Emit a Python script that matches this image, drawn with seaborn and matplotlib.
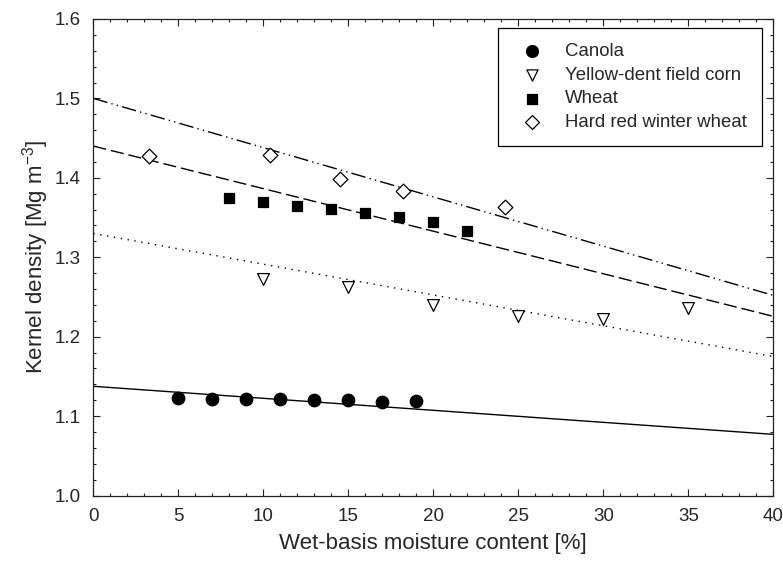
import numpy as np
import pandas as pd
import matplotlib
matplotlib.use("Agg")
import matplotlib.pyplot as plt
from matplotlib.ticker import MultipleLocator
import seaborn as sns

# ---- data ----
canola_x = [5, 7, 9, 11, 13, 15, 17, 19]
canola_y = [1.123, 1.122, 1.121, 1.121, 1.120, 1.120, 1.118, 1.119]

corn_x = [10, 15, 20, 25, 30, 35]
corn_y = [1.273, 1.262, 1.240, 1.226, 1.222, 1.236]

wheat_x = [8, 10, 12, 14, 16, 18, 20, 22]
wheat_y = [1.374, 1.369, 1.365, 1.361, 1.356, 1.351, 1.344, 1.333]

hrw_x = [3.3, 10.4, 14.5, 18.2, 24.2]
hrw_y = [1.428, 1.429, 1.399, 1.383, 1.363]

# fitted model lines (values at the ends of the moisture range)
fit_x = [0, 40]
canola_fit = [1.1375, 1.077]
corn_fit = [1.330, 1.175]
wheat_fit = [1.440, 1.2256]
hrw_fit = [1.500, 1.252]

labels = ["Canola", "Yellow-dent field corn", "Wheat", "Hard red winter wheat"]
x_ticks = [0, 5, 10, 15, 20, 25, 30, 35, 40]
y_ticks = [1.0, 1.1, 1.2, 1.3, 1.4, 1.5, 1.6]

sns.set_style("ticks")
plt.rcParams["font.family"] = ["Liberation Sans", "DejaVu Sans"]
plt.rcParams["mathtext.default"] = "regular"

fig = plt.figure(figsize=(7.83, 5.70), dpi=100)
ax = fig.add_axes([0.1192, 0.1307, 0.8684, 0.836])

# fitted lines
fit_styles = [
    (canola_fit, "-"),
    (corn_fit, (0, (1, 4))),
    (wheat_fit, (0, (9.5, 3.5))),
    (hrw_fit, (0, (10.5, 3, 1, 3, 1, 3))),
]
for vals, ls in fit_styles:
    d = pd.DataFrame({"x": fit_x, "y": vals})
    sns.lineplot(data=d, x="x", y="y", ax=ax, color="black", lw=1.0,
                 linestyle=ls, legend=False)

# data points
series = [
    (canola_x, canola_y, "o", "black", 9.0),
    (corn_x, corn_y, "v", "white", 8.5),
    (wheat_x, wheat_y, "s", "black", 7.8),
    (hrw_x, hrw_y, "D", "white", 7.5),
]
for (xs, ys, mk, fc, ms), lab in zip(series, labels):
    d = pd.DataFrame({"x": xs, "y": ys})
    sns.scatterplot(data=d, x="x", y="y", ax=ax, marker=mk, s=ms ** 2,
                    facecolor=fc, edgecolor="black", linewidth=0.9,
                    label=lab, zorder=3)

ax.set_xlim(0, 40)
ax.set_ylim(1.0, 1.6)
ax.set_xticks(x_ticks)
ax.set_yticks(y_ticks)
ax.set_xticklabels([str(v) for v in x_ticks])
ax.set_yticklabels([f"{v:.1f}" for v in y_ticks])
ax.xaxis.set_minor_locator(MultipleLocator(1))
ax.yaxis.set_minor_locator(MultipleLocator(0.02))
ax.tick_params(which="both", direction="in", top=True, right=True,
               color="#222222", width=0.8)
ax.tick_params(which="major", length=5, labelsize=13.5, pad=9)
ax.tick_params(which="minor", length=2.5)
for sp in ax.spines.values():
    sp.set_visible(True)
    sp.set_linewidth(0.9)
    sp.set_color("#222222")

ax.set_xlabel("Wet-basis moisture content [%]", fontsize=16, labelpad=6)
ax.set_ylabel("Kernel density [Mg m$^{-3}$]", fontsize=16, labelpad=3)

h, l = ax.get_legend_handles_labels()
leg = ax.legend(h, l, loc="upper right", bbox_to_anchor=(0.9834, 0.981),
                borderaxespad=0, fontsize=13.4, frameon=True, fancybox=False,
                framealpha=1, edgecolor="black", handletextpad=0.78,
                labelspacing=0.35, borderpad=0.82, markerscale=0.95)
leg.get_frame().set_linewidth(0.9)

fig.savefig("out.png", dpi=100)
